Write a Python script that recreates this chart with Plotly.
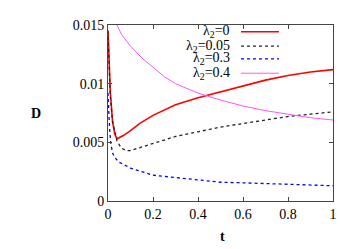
import plotly.graph_objects as go

t_r = [0, 0.005, 0.01, 0.02, 0.03, 0.04, 0.05, 0.07, 0.1, 0.14, 0.2, 0.3, 0.4, 0.5, 0.6, 0.7, 0.8, 0.9, 1.0]
D_r = [0.0145, 0.0118, 0.0094, 0.0068, 0.0057, 0.0053, 0.0054, 0.0056, 0.0060, 0.0066, 0.0073, 0.0082, 0.0088, 0.0093, 0.0098, 0.0103, 0.0107, 0.0110, 0.0112]

t_k = [0, 0.005, 0.01, 0.02, 0.04, 0.06, 0.08, 0.1, 0.15, 0.2, 0.3, 0.4, 0.5, 0.6, 0.7, 0.8, 0.9, 1.0]
D_k = [0.0145, 0.0115, 0.0090, 0.0068, 0.0051, 0.0045, 0.0043, 0.0043, 0.0046, 0.0049, 0.0055, 0.0059, 0.0063, 0.0066, 0.0069, 0.0072, 0.0074, 0.0076]

t_b = [0, 0.003, 0.007, 0.012, 0.02, 0.03, 0.05, 0.07, 0.1, 0.15, 0.2, 0.3, 0.4, 0.5, 0.6, 0.7, 0.8, 0.9, 1.0]
D_b = [0.0092, 0.0075, 0.0062, 0.0050, 0.0041, 0.0037, 0.0033, 0.0031, 0.0028, 0.0025, 0.0022, 0.0020, 0.0018, 0.0016, 0.00155, 0.0015, 0.0014, 0.00135, 0.0013]

t_m = [0.035, 0.04, 0.06, 0.08, 0.1, 0.15, 0.2, 0.25, 0.3, 0.4, 0.5, 0.6, 0.7, 0.8, 0.9, 1.0]
D_m = [0.0153, 0.0150, 0.0142, 0.0137, 0.0132, 0.0122, 0.0114, 0.0106, 0.0100, 0.0092, 0.0086, 0.0081, 0.0077, 0.0074, 0.0071, 0.0069]

labels = ["λ<sub>2</sub>=0", "λ<sub>2</sub>=0.05", "λ<sub>2</sub>=0.3", "λ<sub>2</sub>=0.4"]
x_ticks = [0, 0.2, 0.4, 0.6, 0.8, 1]
x_ticktext = ["0", "0.2", "0.4", "0.6", "0.8", "1"]
y_ticks = [0, 0.005, 0.01, 0.015]
y_ticktext = ["0", "0.005", "0.01", "0.015"]

styles = [
    dict(color="#ff0000", width=1.6, dash="solid"),
    dict(color="#222222", width=1.3, dash="dot"),
    dict(color="#0000ff", width=1.3, dash="dot"),
    dict(color="#ff55ff", width=1.0, dash="solid"),
]
series = [(t_r, D_r), (t_k, D_k), (t_b, D_b), (t_m, D_m)]

FONT = "'Liberation Serif', 'Times New Roman', serif"
fig = go.Figure()
for (tx, dy), st, lab in zip(series, styles, labels):
    fig.add_trace(go.Scatter(x=tx, y=dy, mode="lines", line=st, name=lab, showlegend=False))

# legend drawn manually (text left, sample right)
leg_y = [0.962, 0.880, 0.808, 0.726]
for lab, st, yy in zip(labels, styles, leg_y):
    fig.add_annotation(x=0.551, y=yy, xref="paper", yref="paper", text=lab, showarrow=False,
                       xanchor="right", yanchor="middle", font=dict(family=FONT, size=14, color="black"))
    fig.add_shape(type="line", xref="paper", yref="paper", x0=0.591, x1=0.76, y0=yy, y1=yy,
                  line=st)

fig.add_annotation(x=-0.35, y=0.5, xref="paper", yref="paper", text="<b>D</b>", showarrow=False,
                   font=dict(family=FONT, size=14, color="black"))
fig.add_annotation(x=0.507, y=-0.2, xref="paper", yref="paper", text="<b>t</b>", showarrow=False,
                   yanchor="middle", font=dict(family=FONT, size=14, color="black"))

axis_common = dict(showgrid=False, zeroline=False, showline=True, linecolor="#444444", linewidth=1,
                   mirror="ticks", ticks="inside", ticklen=4, tickcolor="#444444",
                   tickfont=dict(family=FONT, size=14, color="black"))
fig.update_xaxes(range=[0, 1], tickvals=x_ticks, ticktext=x_ticktext, **axis_common)
fig.update_yaxes(range=[0, 0.015], tickvals=y_ticks, ticktext=y_ticktext, **axis_common)

# page body has an 8px default margin; compensate so the plot lands where the reference has it
fig.update_layout(width=348, height=241, margin=dict(l=100, r=23, t=10, b=48),
                  plot_bgcolor="white", paper_bgcolor="white", showlegend=False,
                  font=dict(family=FONT))
fig.write_html("out.html")
